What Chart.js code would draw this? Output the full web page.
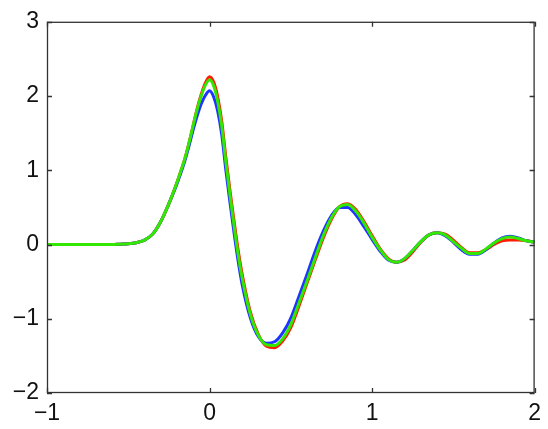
<!DOCTYPE html>
<html>
<head>
<meta charset="utf-8">
<script src="https://cdn.jsdelivr.net/npm/chart.js@4"></script>
<style>
  html, body { margin: 0; padding: 0; background: #fff; }
  canvas { display: block; }
</style>
</head>
<body>
<canvas id="wave" width="548" height="429"></canvas>
<script>
// sample positions shared by all three traces (denser around the main peak)
const xs = [
  -1.00, -0.95, -0.90, -0.85, -0.80, -0.75, -0.70, -0.65, -0.60, -0.55,
  -0.50, -0.45, -0.40, -0.35, -0.30, -0.25, -0.20, -0.15, -0.125, -0.10,
  -0.075, -0.05, -0.025, 0.00, 0.025, 0.05, 0.075, 0.10, 0.125, 0.15,
   0.175, 0.20, 0.25, 0.30, 0.35, 0.40, 0.45, 0.50, 0.55, 0.60,
   0.65, 0.70, 0.75, 0.80, 0.85, 0.90, 0.95, 1.00, 1.05, 1.10,
   1.15, 1.20, 1.25, 1.30, 1.35, 1.40, 1.45, 1.50, 1.55, 1.60,
   1.65, 1.70, 1.75, 1.80, 1.85, 1.90, 1.95, 2.00
];

const redVals = [
  0, 0, 0, 0, 0, 0, 0, 0, 0, 0.005,
  0.01, 0.025, 0.06, 0.14, 0.31, 0.55, 0.84, 1.17, 1.38, 1.61,
  1.84, 2.03, 2.18, 2.26, 2.19, 1.99, 1.66, 1.18, 0.74, 0.33,
  -0.06, -0.39, -0.90, -1.21, -1.37, -1.39, -1.30, -1.12, -0.83, -0.52,
  -0.21, 0.09, 0.34, 0.51, 0.55, 0.47, 0.31, 0.12, -0.06, -0.19,
  -0.24, -0.21, -0.10, 0.03, 0.13, 0.16, 0.14, 0.06, -0.04, -0.11,
  -0.11, -0.07, 0.00, 0.05, 0.06, 0.06, 0.05, 0.03
];

const blueVals = [
  0, 0, 0, 0, 0, 0, 0, 0, 0, 0.005,
  0.01, 0.025, 0.06, 0.14, 0.31, 0.55, 0.82, 1.14, 1.34, 1.55,
  1.74, 1.90, 2.01, 2.07, 1.99, 1.80, 1.48, 1.01, 0.58, 0.17,
  -0.21, -0.53, -0.98, -1.24, -1.33, -1.31, -1.19, -0.99, -0.70, -0.40,
  -0.09, 0.18, 0.39, 0.50, 0.50, 0.40, 0.24, 0.07, -0.09, -0.21,
  -0.24, -0.19, -0.08, 0.04, 0.13, 0.16, 0.12, 0.03, -0.07, -0.13,
  -0.13, -0.07, 0.02, 0.09, 0.11, 0.09, 0.05, 0.03
];

const greenVals = [
  0, 0, 0, 0, 0, 0, 0, 0, 0, 0.005,
  0.01, 0.025, 0.06, 0.14, 0.31, 0.55, 0.84, 1.17, 1.38, 1.61,
  1.83, 2.01, 2.15, 2.22, 2.14, 1.93, 1.60, 1.12, 0.68, 0.27,
  -0.12, -0.44, -0.93, -1.22, -1.35, -1.36, -1.27, -1.08, -0.79, -0.49,
  -0.18, 0.12, 0.36, 0.51, 0.54, 0.45, 0.29, 0.10, -0.07, -0.20,
  -0.24, -0.19, -0.08, 0.04, 0.13, 0.16, 0.13, 0.04, -0.05, -0.12,
  -0.12, -0.06, 0.02, 0.08, 0.10, 0.08, 0.05, 0.03
];

const xTicks = [-1, 0, 1, 2];
const yTicks = [-2, -1, 0, 1, 2, 3];

const pts = vals => xs.map((x, i) => ({ x: x, y: vals[i] }));
const fmt = v => (v < 0 ? '\u2212' + Math.abs(v) : String(v));

// box around the plot with short inward ticks on every side
const frame = {
  id: 'frame',
  afterDatasetsDraw(chart) {
    const { ctx, chartArea: a, scales } = chart;
    const len = 5;
    ctx.save();
    ctx.strokeStyle = '#333';
    ctx.lineWidth = 1.3;
    ctx.beginPath();
    xTicks.forEach(v => {
      const px = Math.round(scales.x.getPixelForValue(v)) + 0.5;
      ctx.moveTo(px, a.bottom); ctx.lineTo(px, a.bottom - len);
      ctx.moveTo(px, a.top); ctx.lineTo(px, a.top + len);
    });
    yTicks.forEach(v => {
      const py = Math.round(scales.y.getPixelForValue(v)) + 0.5;
      ctx.moveTo(a.left, py); ctx.lineTo(a.left + len, py);
      ctx.moveTo(a.right, py); ctx.lineTo(a.right - len, py);
    });
    ctx.stroke();
    ctx.strokeRect(a.left + 0.5, a.top + 0.5, a.right - a.left - 1, a.bottom - a.top - 1);
    ctx.restore();
  }
};

const line = (color, vals, order) => ({
  data: pts(vals),
  borderColor: color,
  borderWidth: 3,
  pointRadius: 0,
  fill: false,
  cubicInterpolationMode: 'monotone',
  order: order
});

const tickFont = { family: 'Liberation Sans, Arial, sans-serif', size: 23 };

new Chart(document.getElementById('wave').getContext('2d'), {
  type: 'line',
  data: {
    datasets: [
      line('#ff1a00', redVals, 3),
      line('#1f35ff', blueVals, 2),
      line('#33e800', greenVals, 1)
    ]
  },
  options: {
    responsive: false,
    animation: false,
    devicePixelRatio: 1,
    layout: { padding: { top: 15, right: 7, left: 0, bottom: 0 } },
    plugins: { legend: { display: false }, tooltip: { enabled: false } },
    scales: {
      x: {
        type: 'linear',
        min: -1,
        max: 2,
        afterFit: s => { s.height = 36; },
        afterBuildTicks: s => { s.ticks = xTicks.map(v => ({ value: v })); },
        grid: { display: false, drawTicks: false },
        border: { display: false },
        ticks: { padding: 7, color: '#111', font: tickFont, callback: fmt }
      },
      y: {
        type: 'linear',
        min: -2,
        max: 3,
        afterFit: s => { s.width = 47; },
        afterBuildTicks: s => { s.ticks = yTicks.map(v => ({ value: v })); },
        grid: { display: false, drawTicks: false },
        border: { display: false },
        ticks: { padding: 8, color: '#111', font: tickFont, callback: fmt }
      }
    }
  },
  plugins: [frame]
});
</script>
</body>
</html>
